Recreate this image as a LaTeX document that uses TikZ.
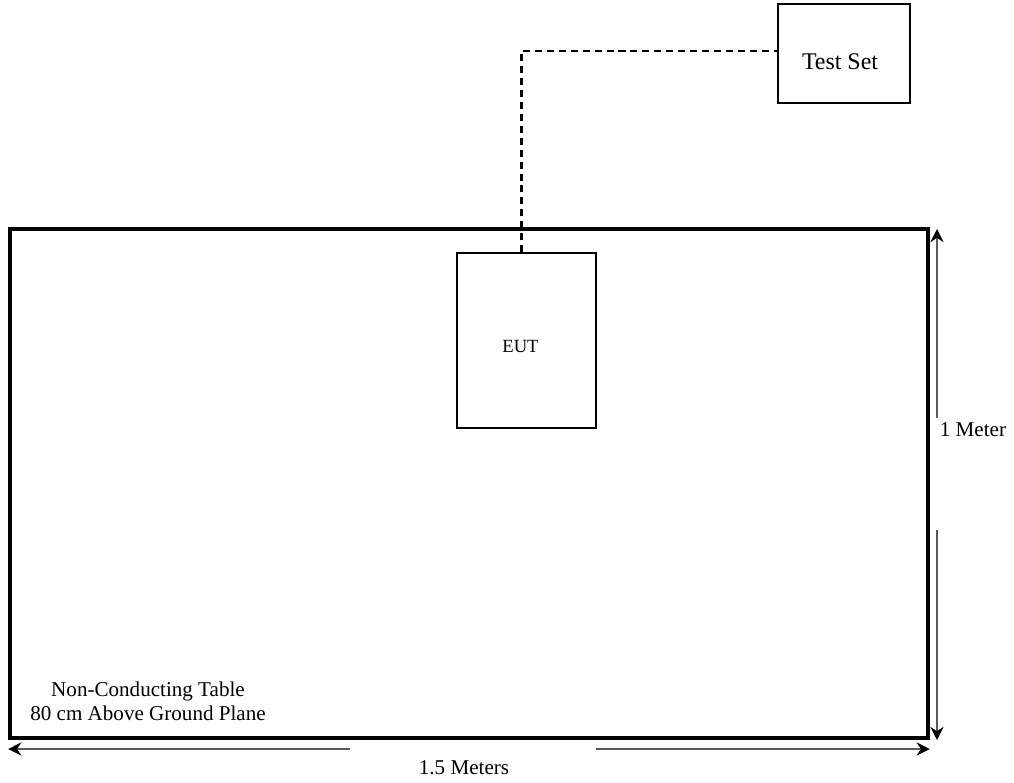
\documentclass[tikz,border=0pt]{standalone}
\usepackage{fontspec}
\setmainfont{Liberation Serif}
\usetikzlibrary{arrows.meta, positioning}
\definecolor{DimGray}{RGB}{90,90,90}

\begin{document}
\begin{tikzpicture}[x=0.02cm, y=-0.02cm,
      ubox/.style={rectangle, draw, line width=0.9pt, inner sep=0pt},
      cable/.style={draw, line width=1.7pt, dash pattern=on 4pt off 2.8pt},
      dim/.style={draw=DimGray, line width=0.8pt,
                  -{Stealth[length=7.5pt, width=7.5pt, inset=2.5pt, black]}},
      lbl/.style={font=\fontsize{12}{13.5}\selectfont, align=center}
    ]
    \useasboundingbox (0,0) rectangle (1014,782);

    % table top
    \node[rectangle, draw, line width=2pt, minimum width=918*0.02cm,
          minimum height=509*0.02cm, inner sep=0pt] (table) at (469,483.5) {};

    \node[ubox, minimum width=139*0.02cm, minimum height=175*0.02cm] (eut) at (526.5,340.5) {};
    \node[font=\fontsize{10.6}{12}\selectfont] (euttxt) at ([shift={(-6,6)}]eut.center) {EUT};
    \node[ubox, minimum width=132*0.02cm, minimum height=99*0.02cm] (testset) at (844,53.5) {};
    \node[font=\fontsize{13.6}{15}\selectfont] (testtxt) at ([shift={(-4,8)}]testset.center) {Test Set};

    % cable
    \coordinate (bend) at (521,51);
    \draw[cable] (eut.north -| bend) -- (bend) -- (bend -| testset.west);

    \node[lbl] (note) at (148,701) {Non-Conducting Table\\80 cm Above Ground Plane};

    % dimensions
    \node[lbl] (depth) at (973,430) {1 Meter};
    \node[lbl] (width) at (464,768) {1.5 Meters};
    \coordinate (dtop) at (937,418);
    \coordinate (dbot) at (937,530);
    \coordinate (wleft) at (350,749);
    \coordinate (wright) at (596,749);
    \draw[dim] (dtop) -- (937,229);
    \draw[dim] (dbot) -- (937,740);
    \draw[dim] (wleft) -- (wleft -| table.west);
    \draw[dim] (wright) -- (wright -| table.east);
  \end{tikzpicture}
\end{document}
